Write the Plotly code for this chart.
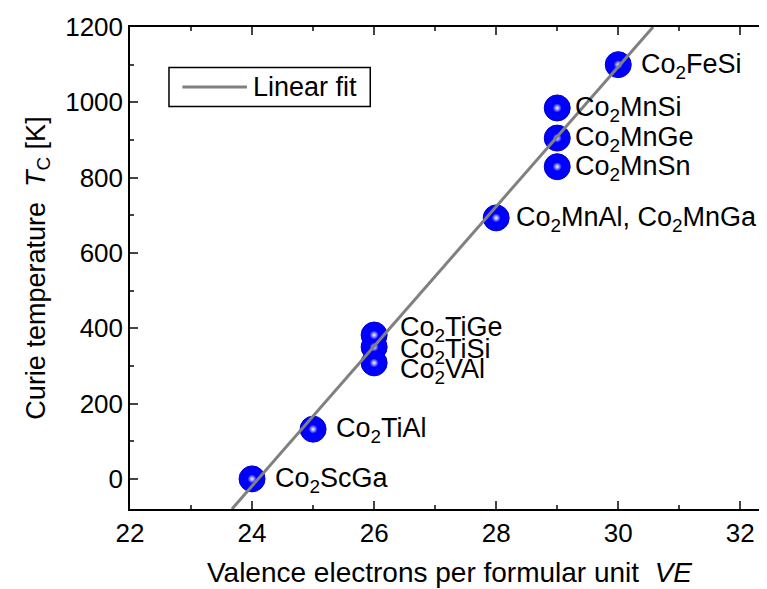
import plotly.graph_objects as go

# Data
compounds = ["Co<sub>2</sub>ScGa", "Co<sub>2</sub>TiAl", "Co<sub>2</sub>TiGe", "Co<sub>2</sub>TiSi",
             "Co<sub>2</sub>VAl", "Co<sub>2</sub>MnAl, Co<sub>2</sub>MnGa", "Co<sub>2</sub>MnSi",
             "Co<sub>2</sub>MnGe", "Co<sub>2</sub>MnSn", "Co<sub>2</sub>FeSi"]
ve = [24, 25, 26, 26, 26, 28, 29, 29, 29, 30]
tc = [0, 132, 382, 350, 308, 693, 985, 905, 829, 1100]
label_tc = [0, 132, 400, 342, 289, 693, 985, 905, 829, 1100]

fit_ve = [23.67, 30.57]
fit_tc = [-80, 1200]

x_ticks = [22, 24, 26, 28, 30, 32]
y_ticks = [0, 200, 400, 600, 800, 1000, 1200]

FONT = "Liberation Sans, Arial, sans-serif"

fig = go.Figure()
fig.add_trace(go.Scatter(x=ve, y=tc, mode="markers", showlegend=False,
                         marker=dict(size=26, color="#0000ff", line=dict(width=1, color="#0000c8"))))
fig.add_trace(go.Scatter(x=ve, y=tc, mode="markers", showlegend=False,
                         marker=dict(size=9, color="#0000ff", gradient=dict(type="radial", color="#ffffff"),
                                     line=dict(width=0))))
fig.add_trace(go.Scatter(x=fit_ve, y=fit_tc, mode="lines", showlegend=False, name="Linear fit",
                         line=dict(color="#808080", width=3)))

xshifts = [21, 21, 24, 24, 24, 18, 16, 16, 16, 21]
for name, x, y, xs in zip(compounds, ve, label_tc, xshifts):
    fig.add_annotation(x=x, y=y, text=name, showarrow=False, xanchor="left", yanchor="middle",
                       xshift=xs, yshift=-1, font=dict(family=FONT, size=27, color="black"))

# legend box (drawn manually to match the long line sample)
fig.add_shape(type="rect", xref="paper", yref="paper", x0=0.061, x1=0.376, y0=0.835, y1=0.916,
              line=dict(color="black", width=1.5), fillcolor="white", layer="above")
fig.add_shape(type="line", xref="paper", yref="paper", x0=0.082, x1=0.183, y0=0.8755, y1=0.8755,
              line=dict(color="#808080", width=3), layer="above")
fig.add_annotation(xref="paper", yref="paper", x=0.19, y=0.8755, text="Linear fit", showarrow=False,
                   xanchor="left", yanchor="middle", font=dict(family=FONT, size=27, color="black"))

fig.update_layout(
    width=767, height=589,
    margin=dict(l=122, r=4, t=15, b=88),
    paper_bgcolor="white", plot_bgcolor="white",
    font=dict(family=FONT, size=26, color="black"),
    showlegend=False,
    xaxis=dict(range=[22, 32.47], tickvals=x_ticks, ticks="inside", ticklen=8,
               tickwidth=1.5, showline=True, linecolor="black", linewidth=1.5, mirror="ticks",
               showgrid=False, zeroline=False, tickfont=dict(size=26),
               minor=dict(dtick=1, ticks="inside", ticklen=4, tickwidth=1.5, showgrid=False),
               title=dict(text="Valence electrons per formular unit  <i>VE</i>", standoff=15,
                          font=dict(size=28))),
    yaxis=dict(range=[-80, 1200], tickvals=y_ticks, ticks="inside", ticklen=8,
               tickwidth=1.5, showline=True, linecolor="black", linewidth=1.5, mirror="ticks",
               showgrid=False, zeroline=False, tickfont=dict(size=26),
               minor=dict(dtick=100, ticks="inside", ticklen=4, tickwidth=1.5, showgrid=False),
               title=dict(text="Curie temperature  <i>T</i><sub>C</sub> [K]", standoff=12,
                          font=dict(size=27))),
)

fig.write_html("out.html")
